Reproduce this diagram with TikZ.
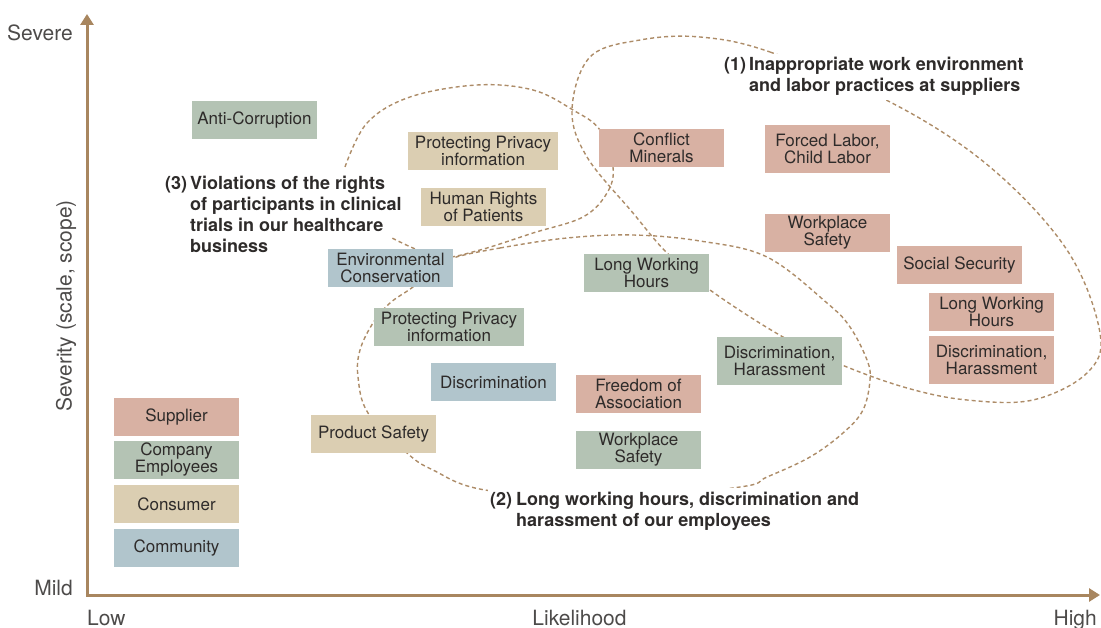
\documentclass[tikz,border=0pt]{standalone}
\usepackage{fontspec}
\setmainfont{TeX Gyre Heros}
\usetikzlibrary{arrows.meta}
\definecolor{pinkc}{HTML}{D8B1A3}
\definecolor{greenc}{HTML}{B4C3B4}
\definecolor{tanc}{HTML}{DBCEB2}
\definecolor{bluec}{HTML}{B1C5CC}
\definecolor{axisc}{HTML}{A8865F}
\definecolor{dashc}{HTML}{AD8C68}
\definecolor{txt}{HTML}{2E2B2A}
\tikzset{
  box/.style={minimum width=125pt, minimum height=38pt, inner sep=0pt, align=center,
    font=\fontsize{17}{17}\selectfont, text=txt},
  wide/.style={minimum width=150pt},
  tall/.style={minimum height=48pt},
  sup/.style={box, fill=pinkc},
  emp/.style={box, fill=greenc},
  con/.style={box, fill=tanc},
  com/.style={box, fill=bluec},
  grp/.style={draw=dashc, line width=1.4pt, dash pattern=on 4pt off 3pt},
  lbl/.style={font=\bfseries\fontsize{18}{21}\selectfont, text=txt, inner sep=2pt, anchor=base west},
  axlbl/.style={font=\fontsize{21}{21}\selectfont, text=txt!85, inner sep=0pt},
  axis/.style={draw=axisc, line width=3pt, {Triangle[length=11pt,width=13pt]}-{Triangle[length=11pt,width=13pt]}}
}
\begin{document}
\begin{tikzpicture}[x=1pt,y=-1pt]
\useasboundingbox (0,0) rectangle (1101,628);

% group (1)
\draw[grp] plot[smooth cycle, tension=0.6] coordinates {
 (700,37) (770,52) (892,103) (990,167) (1067,250) (1100,333) (1087,373) (1033,400)
 (967,400) (907,388) (842,365) (783,337) (710,290) (667,253) (633,213) (587,157)
 (572,110) (590,57) (640,40)};
% group (2)
\draw[grp] plot[smooth cycle, tension=0.6] coordinates {
 (453,258) (500,248) (567,238) (633,235) (700,241) (767,257) (827,303) (850,327)
 (867,360) (870,380) (863,410) (843,433) (810,457) (767,477) (740,487) (610,500)
 (485,490) (433,470) (407,453) (368,413) (358,377) (360,350) (373,323) (390,303)
 (413,287) (432,270)};
% group (3)
\draw[grp] plot[smooth, tension=0.6] coordinates {
 (345,167) (367,123) (410,97) (477,85) (533,90) (573,110) (600,130) (613,167)
 (607,193) (583,217) (533,233) (480,250) (440,258) (413,248) (390,237)};

% axes
\coordinate (O) at (87,595);
\coordinate (ytip) at (87,14);
\coordinate (xtip) at (1100,595);
\draw[axis] (ytip) -- (O) -- (xtip);

\node[axlbl, anchor=base east] (severe) at (73,41) {Severe};
\node[axlbl, anchor=base east] (mild) at (73,595) {Mild};
\node[axlbl, anchor=base west] (low) at (87,625) {Low};
\node[axlbl, anchor=base east] (high) at (1097,625) {High};
\node[axlbl, anchor=base] (likelihood) at (579.5,625) {Likelihood};
\node[axlbl, rotate=90] (severity) at (66,306) {Severity (scale, scope)};

% group labels
\node[lbl, fill=white] (g1) at (722,71) {\begin{tabular}[t]{@{}l@{}l@{}}\makebox[25pt][l]{(1)}&Inappropriate work environment\\&and labor practices at suppliers\end{tabular}};
\node[lbl, fill=white] (g2) at (488,505) {\begin{tabular}[t]{@{}l@{}l@{}}\makebox[26pt][l]{(2)}&Long working hours, discrimination and\\&harassment of our employees\end{tabular}};
\node[lbl] (g3) at (163,190) {\begin{tabular}[t]{@{}l@{}l@{}}\makebox[25pt][l]{(3)}&Violations of the rights\\&of participants in clinical\\&trials in our healthcare\\&business\end{tabular}};

% boxes
\node[emp] (anti) at (254.5,120) {Anti-Corruption};
\node[con, wide] (ppt) at (483,151) {Protecting Privacy\\information};
\node[con] (hrp) at (483.5,207) {Human Rights\\of Patients};
\node[sup] (cm) at (661.5,148) {Conflict\\Minerals};
\node[sup, tall] (fl) at (827.5,149) {Forced Labor,\\Child Labor};
\node[sup] (wsp) at (827.5,233) {Workplace\\Safety};
\node[sup] (ss) at (959.5,265) {Social Security};
\node[sup] (lwhp) at (991.5,312) {Long Working\\Hours};
\node[sup, tall] (dhp) at (991.5,360) {Discrimination,\\Harassment};
\node[com] (env) at (390.5,268) {Environmental\\Conservation};
\node[emp] (lwhg) at (646.5,273) {Long Working\\Hours};
\node[emp, wide] (ppg) at (449,327) {Protecting Privacy\\information};
\node[com] (disc) at (493.5,382) {Discrimination};
\node[sup] (foa) at (638.5,394) {Freedom of\\Association};
\node[emp, tall] (dhg) at (779.5,361) {Discrimination,\\Harassment};
\node[con] (ps) at (373.5,434) {Product Safety};
\node[emp] (wsg) at (638.5,450) {Workplace\\Safety};

% legend
\node[sup] (lsup) at (176.5,417) {Supplier};
\node[emp] (lemp) at (176.5,460) {Company\\Employees};
\node[con] (lcon) at (176.5,504) {Consumer};
\node[com] (lcom) at (176.5,548) {Community};
\end{tikzpicture}
\end{document}
